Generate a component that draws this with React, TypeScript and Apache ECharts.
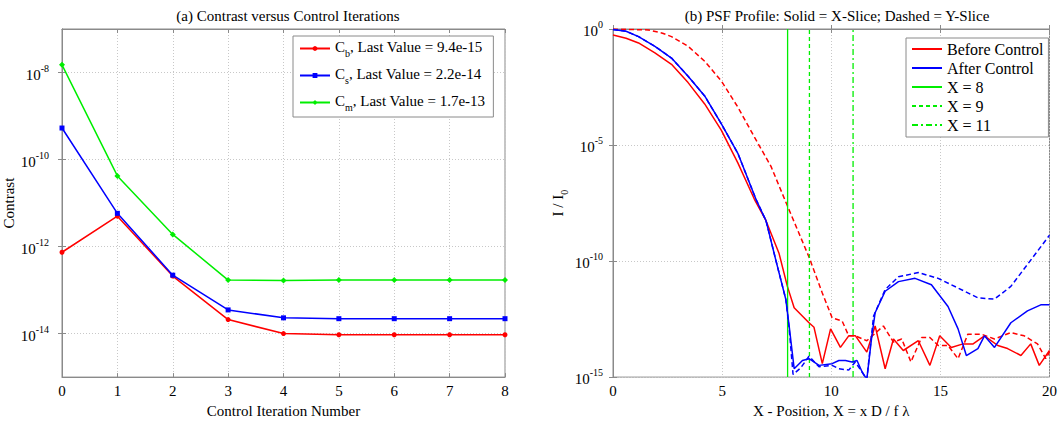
import React, { useEffect, useRef } from "react";
import * as echarts from "echarts";

// ---------- Data: left panel (contrast vs iteration) ----------
const iterations = [0, 1, 2, 3, 4, 5, 6, 7, 8];
const contrastB = [7.4e-13, 5.0e-12, 2.1e-13, 2.1e-14, 1.0e-14, 9.4e-15, 9.4e-15, 9.4e-15, 9.4e-15];
const contrastS = [5.3e-10, 5.8e-12, 2.2e-13, 3.5e-14, 2.3e-14, 2.2e-14, 2.2e-14, 2.2e-14, 2.2e-14];
const contrastM = [1.5e-8, 4.2e-11, 1.9e-12, 1.7e-13, 1.65e-13, 1.7e-13, 1.7e-13, 1.7e-13, 1.7e-13];
const leftLegend = [
  { name: "Cb", sub: "b", last: "9.4e-15" },
  { name: "Cs", sub: "s", last: "2.2e-14" },
  { name: "Cm", sub: "m", last: "1.7e-13" },
];
const leftYTicks = [-14, -12, -10, -8];

// ---------- Data: right panel (PSF profile) ----------
const beforeX_pos = [0, 0.6, 1.17, 1.92, 2.68, 3.44, 4.2, 4.96, 5.72, 6.48, 7.01, 7.61, 7.99, 8.3, 8.98, 9.21, 9.59, 9.97, 10.42, 10.8, 11.11, 11.63, 12.01, 12.47, 12.85, 13.3, 13.99, 14.52, 14.97, 15.5, 16.04, 16.5, 17.02, 17.63, 18.08, 18.69, 19.14, 19.53, 20];
const beforeX_val = [5.5e-1, 4.0e-1, 2.5e-1, 9.3e-2, 3.0e-2, 4.9e-3, 5.9e-4, 4.4e-5, 1.7e-6, 4.6e-8, 5.5e-9, 2.1e-10, 8.1e-12, 9.8e-13, 2.2e-13, 1.4e-13, 3.8e-15, 1.2e-13, 1.9e-14, 6.0e-14, 6.0e-14, 1.2e-14, 1.6e-13, 2.3e-15, 4.4e-14, 1.4e-14, 3.7e-14, 3.2e-15, 6.0e-14, 1.9e-14, 2.7e-14, 2.7e-14, 6.0e-14, 2.3e-14, 1.7e-14, 8.5e-15, 2.7e-14, 3.2e-15, 1.4e-14];

const beforeY_pos = [0, 1.62, 2.27, 2.68, 3.44, 4.2, 4.96, 5.72, 6.48, 7.24, 7.99, 8.98, 9.59, 10.04, 10.5, 10.8, 11.1, 11.63, 12.39, 12.85, 13.23, 13.65, 14.14, 14.52, 14.9, 15.35, 15.81, 16.26, 16.87, 17.48, 18.23, 18.84, 19.45, 19.83, 20];
const beforeY_val = [1.0, 9.1e-1, 6.6e-1, 4.7e-1, 1.8e-1, 4.1e-2, 5.8e-3, 4.3e-4, 2.2e-5, 1.2e-6, 2.4e-8, 1.5e-10, 4.2e-12, 3.6e-13, 2.6e-13, 6.0e-14, 6.0e-14, 3.7e-14, 1.6e-13, 3.2e-14, 4.4e-14, 4.5e-15, 5.1e-14, 5.1e-14, 2.3e-14, 2.3e-14, 6.2e-15, 7.1e-14, 7.1e-14, 4.4e-14, 8.3e-14, 6.0e-14, 2.7e-14, 6.2e-15, 1.2e-14];

const afterX_pos = [0, 0.6, 1.17, 1.92, 2.68, 3.44, 4.2, 4.96, 5.72, 6.55, 7.01, 7.46, 7.92, 8.07, 8.3, 8.68, 8.98, 9.44, 10.04, 10.35, 10.65, 10.95, 11.18, 11.41, 11.63, 11.86, 12.01, 12.47, 13.08, 13.84, 14.59, 15.35, 15.81, 16.19, 16.72, 17.02, 17.48, 18.23, 18.99, 19.6, 20];
const afterX_val = [9.5e-1, 8.0e-1, 4.7e-1, 1.8e-1, 5.6e-2, 9.3e-3, 1.3e-3, 8.3e-5, 4.4e-6, 4.6e-8, 5.5e-9, 1.1e-10, 2.2e-12, 1.6e-13, 2.3e-15, 5.2e-15, 6.2e-15, 3.2e-15, 3.8e-15, 5.2e-15, 5.2e-15, 4.5e-15, 5.2e-15, 1.7e-15, 8.0e-16, 6.0e-14, 5.9e-13, 5.0e-12, 1.3e-11, 1.8e-11, 9.5e-12, 1.1e-12, 1.2e-13, 8.5e-15, 1.7e-14, 6.0e-14, 1.9e-14, 2.2e-13, 7.1e-13, 1.3e-12, 1.3e-12];

const afterY_pos = [0, 0.6, 1.17, 1.92, 2.68, 3.44, 4.2, 4.96, 5.72, 6.55, 7.01, 7.46, 7.92, 8.07, 8.25, 8.6, 8.98, 9.44, 10.04, 10.35, 10.8, 11.1, 11.63, 11.94, 12.47, 13.08, 13.99, 14.9, 15.81, 16.72, 17.48, 18.23, 19.14, 20];
const afterY_val = [9.5e-1, 8.0e-1, 4.7e-1, 1.8e-1, 5.6e-2, 9.3e-3, 1.3e-3, 8.3e-5, 4.4e-6, 4.6e-8, 5.5e-9, 1.1e-10, 2.2e-12, 1.3e-13, 1.3e-15, 2.5e-15, 7.9e-15, 2.8e-15, 3.2e-15, 2.3e-15, 2.0e-15, 4.5e-15, 8.0e-16, 4.3e-13, 5.9e-12, 2.1e-11, 3.2e-11, 1.8e-11, 6.9e-12, 2.6e-12, 2.3e-12, 8.1e-12, 1.1e-10, 1.3e-9];

const markerPositions = [8, 9, 11];
const markerNames = ["X = 8", "X = 9", "X = 11"];
const rightYRange = [1e-15, 1e0];
const rightLegendNames = ["Before Control", "After Control", "X = 8", "X = 9", "X = 11"];

const FONT = "'Liberation Serif', 'Times New Roman', Times, serif";
const RED = "#ff0000";
const BLUE = "#0000ff";
const GREEN = "#00ee00";
const AXIS_GRAY = "#8a8a8a";

const toLog = (pos: number[], vals: number[]) => pos.map((x, i) => [x, Math.log10(vals[i])]);

const powLabel = (v: number) => `{b|10}{s|${v}}`;
const powRich = {
  b: { fontFamily: FONT, fontSize: 15, color: "#000", lineHeight: 19, verticalAlign: "bottom" },
  s: { fontFamily: FONT, fontSize: 10, color: "#000", lineHeight: 10, verticalAlign: "top" },
};

export default function App() {
  const ref = useRef<HTMLDivElement>(null);
  useEffect(() => {
    if (!ref.current) return;
    const chart = echarts.init(ref.current, null, { renderer: "svg" });

    const grid0 = { left: 62, right: 555, top: 29, bottom: 41 };
    const grid1 = { left: 613, right: 8, top: 29, bottom: 41 };

    const splitLine = { show: true, lineStyle: { color: "#c8c8c8", type: [1, 2], width: 1 } };
    const axisLine = { show: true, lineStyle: { color: AXIS_GRAY, width: 1 } };
    const tick = { show: true, inside: true, length: 4, lineStyle: { color: AXIS_GRAY } };
    const tickLabel = { fontFamily: FONT, fontSize: 15, color: "#000" };

    const lMin = Math.log10(1e-15);
    const lMax = Math.log10(1e-7);
    const rMin = Math.log10(rightYRange[0]);
    const rMax = Math.log10(rightYRange[1]);

    const leftSeriesData = [contrastB, contrastS, contrastM];
    const leftColors = [RED, BLUE, GREEN];
    const leftSymbols = ["circle", "rect", "diamond"];
    const leftSymbolSize = [5, 5, 6];

    const leftSeries = leftLegend.map((l, k) => ({
      name: l.name,
      type: "line",
      xAxisIndex: 0,
      yAxisIndex: 0,
      data: toLog(iterations, leftSeriesData[k]),
      symbol: leftSymbols[k],
      symbolSize: leftSymbolSize[k],
      showSymbol: true,
      color: leftColors[k],
      itemStyle: { color: leftColors[k] },
      lineStyle: { color: leftColors[k], width: 1.5 },
    }));

    const markerTypes: any[] = ["solid", [4, 3], [6, 3, 2, 3]];
    const markerSeries = markerPositions.map((x, k) => ({
      name: markerNames[k],
      type: "line",
      xAxisIndex: 2,
      yAxisIndex: 2,
      data: [[x, rMin], [x, rMax]],
      showSymbol: false,
      symbol: "none",
      color: GREEN,
      lineStyle: { color: GREEN, width: 1.3, type: markerTypes[k] },
      z: 3,
    }));

    const curve = (name: string, data: number[][], color: string, dashed: boolean, z: number) => ({
      name,
      type: "line",
      xAxisIndex: 2,
      yAxisIndex: 2,
      data,
      showSymbol: false,
      symbol: "none",
      color,
      clip: true,
      lineStyle: { color, width: 1.5, type: dashed ? [5, 3] : "solid" },
      z,
    });

    const nameStyle = { fontFamily: FONT, fontSize: 15, color: "#000" };

    const option: any = {
      animation: false,
      backgroundColor: "#fff",
      textStyle: { fontFamily: FONT },
      title: [
        {
          text: "(a) Contrast versus Control Iterations",
          left: 283,
          top: 3,
          textAlign: "center",
          textStyle: { fontFamily: FONT, fontSize: 15, fontWeight: "normal", color: "#000" },
        },
        {
          text: "(b) PSF Profile: Solid = X-Slice; Dashed = Y-Slice",
          left: 832,
          top: 3,
          textAlign: "center",
          textStyle: { fontFamily: FONT, fontSize: 15, fontWeight: "normal", color: "#000" },
        },
      ],
      legend: [
        {
          data: leftLegend.map((l) => l.name),
          orient: "vertical",
          left: 293,
          top: 36,
          padding: [3, 8, 5, 6],
          itemGap: 8,
          itemWidth: 30,
          itemHeight: 6,
          borderColor: AXIS_GRAY,
          borderWidth: 1,
          backgroundColor: "#fff",
          formatter: (name: string) => {
            const l = leftLegend.find((e) => e.name === name)!;
            return `{m|C}{sub|${l.sub}}{m|, Last Value = ${l.last}}`;
          },
          textStyle: {
            fontFamily: FONT,
            fontSize: 15,
            color: "#000",
            rich: {
              m: { fontFamily: FONT, fontSize: 15, color: "#000", lineHeight: 19, verticalAlign: "top" },
              sub: { fontFamily: FONT, fontSize: 10, color: "#000", lineHeight: 10, verticalAlign: "bottom" },
            },
          },
        },
        {
          data: rightLegendNames,
          orient: "vertical",
          left: 906,
          top: 38,
          padding: [3, 5, 4, 5],
          itemGap: 3,
          itemWidth: 30,
          itemHeight: 6,
          borderColor: AXIS_GRAY,
          borderWidth: 1,
          backgroundColor: "#fff",
          itemStyle: { opacity: 0 },
          textStyle: { fontFamily: FONT, fontSize: 16, color: "#000", lineHeight: 16 },
        },
      ],
      grid: [
        { ...grid0, show: true, borderColor: AXIS_GRAY, borderWidth: 1, backgroundColor: "#fff", containLabel: false },
        { ...grid1, show: true, borderColor: AXIS_GRAY, borderWidth: 1, backgroundColor: "#fff", containLabel: false },
      ],
      xAxis: [
        {
          type: "value",
          gridIndex: 0,
          min: 0,
          max: 8,
          interval: 1,
          position: "bottom",
          name: "Control Iteration Number",
          nameLocation: "middle",
          nameGap: 21,
          nameTextStyle: nameStyle,
          axisLine,
          axisTick: tick,
          axisLabel: { ...tickLabel, margin: 6 },
          splitLine,
        },
        {
          type: "value",
          gridIndex: 0,
          min: 0,
          max: 8,
          interval: 1,
          position: "top",
          axisLine,
          axisTick: tick,
          axisLabel: { show: false },
          splitLine: { show: false },
        },
        {
          type: "value",
          gridIndex: 1,
          min: 0,
          max: 20,
          interval: 5,
          position: "bottom",
          name: "X - Position, X = x D / f \u03bb",
          nameLocation: "middle",
          nameGap: 21,
          nameTextStyle: nameStyle,
          axisLine,
          axisTick: tick,
          axisLabel: { ...tickLabel, margin: 6 },
          splitLine,
        },
        {
          type: "value",
          gridIndex: 1,
          min: 0,
          max: 20,
          interval: 5,
          position: "top",
          axisLine,
          axisTick: tick,
          axisLabel: { show: false },
          splitLine: { show: false },
        },
      ],
      yAxis: [
        {
          type: "value",
          gridIndex: 0,
          min: lMin,
          max: lMax,
          interval: 1,
          position: "left",
          name: "Contrast",
          nameLocation: "middle",
          nameRotate: 90,
          nameGap: 36,
          nameTextStyle: nameStyle,
          axisLine,
          axisTick: { ...tick, customValues: leftYTicks },
          axisLabel: {
            margin: 13,
            customValues: leftYTicks,
            formatter: (v: number) => powLabel(v),
            rich: powRich,
          },
          splitLine,
        },
        {
          type: "value",
          gridIndex: 0,
          min: lMin,
          max: lMax,
          interval: 1,
          position: "right",
          axisLine,
          axisTick: { ...tick, customValues: leftYTicks },
          axisLabel: { show: false },
          splitLine: { show: false },
        },
        {
          type: "value",
          gridIndex: 1,
          min: rMin,
          max: rMax,
          interval: 5,
          position: "left",
          name: "{m|I / I}{sub|0}",
          nameLocation: "middle",
          nameRotate: 90,
          nameGap: 44,
          nameTextStyle: {
            ...nameStyle,
            rich: {
              m: { fontFamily: FONT, fontSize: 15, color: "#000", lineHeight: 19, verticalAlign: "top" },
              sub: { fontFamily: FONT, fontSize: 10, color: "#000", lineHeight: 10, verticalAlign: "bottom" },
            },
          },
          axisLine,
          axisTick: tick,
          axisLabel: {
            margin: 10,
            formatter: (v: number) => powLabel(v),
            rich: powRich,
          },
          splitLine,
        },
        {
          type: "value",
          gridIndex: 1,
          min: rMin,
          max: rMax,
          interval: 5,
          position: "right",
          axisLine,
          axisTick: tick,
          axisLabel: { show: false },
          splitLine: { show: false },
        },
      ],
      series: [
        ...leftSeries,
        curve("Before Control", toLog(beforeX_pos, beforeX_val), RED, false, 2),
        curve("Before Control Y", toLog(beforeY_pos, beforeY_val), RED, true, 2),
        curve("After Control", toLog(afterX_pos, afterX_val), BLUE, false, 4),
        curve("After Control Y", toLog(afterY_pos, afterY_val), BLUE, true, 4),
        ...markerSeries,
      ],
    };

    chart.setOption(option);
    return () => chart.dispose();
  }, []);

  return (
    <div
      ref={ref}
      style={{ position: "fixed", left: 0, top: 0, width: 1060, height: 423, background: "#fff" }}
    />
  );
}
